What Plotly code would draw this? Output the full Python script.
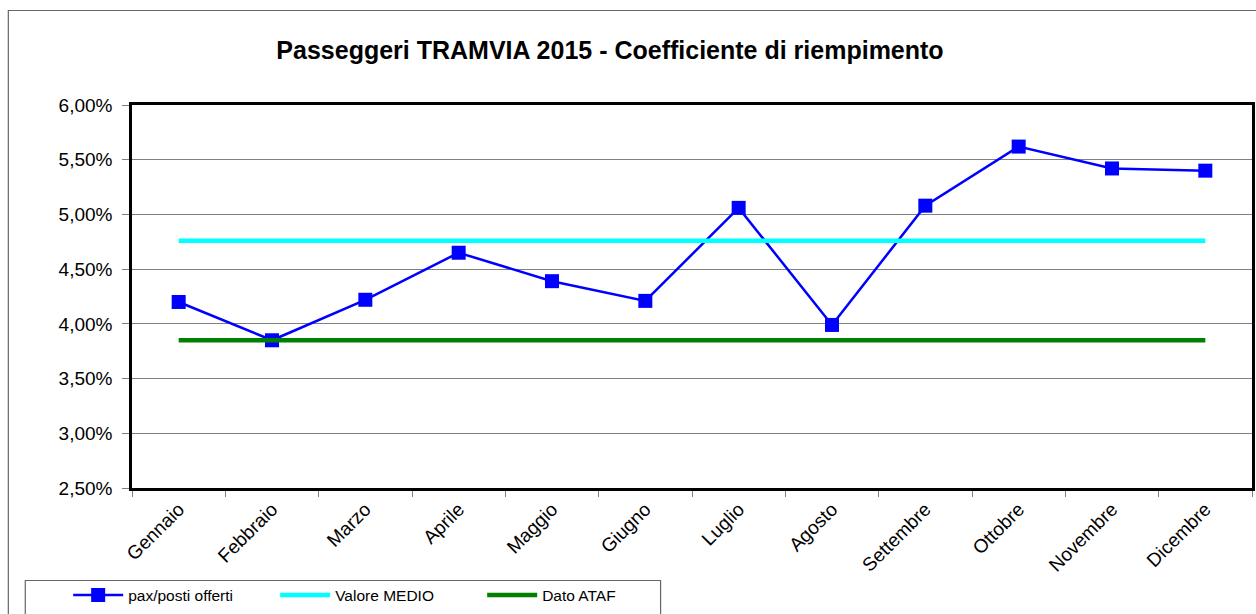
import plotly.graph_objects as go

months = ["Gennaio", "Febbraio", "Marzo", "Aprile", "Maggio", "Giugno",
          "Luglio", "Agosto", "Settembre", "Ottobre", "Novembre", "Dicembre"]
pax_posti = [4.20, 3.85, 4.22, 4.65, 4.39, 4.21, 5.06, 3.99, 5.08, 5.62, 5.42, 5.40]  # %
valore_medio = [4.76] * 12  # %
dato_ataf = [3.85] * 12  # %
y_ticks = [2.5, 3.0, 3.5, 4.0, 4.5, 5.0, 5.5, 6.0]  # %

W, H = 1256, 614
L, R, T, B = 132, 1255, 105, 490
pw, ph = R - L, B - T

def px_x(x):
    return (x - L) / pw

def px_y(y):
    return (B - y) / ph

def frac(vals):
    return [v / 100 for v in vals]

fig = go.Figure()
fig.add_trace(go.Scatter(x=months, y=frac(pax_posti), name="pax/posti offerti", mode="lines+markers",
                         line=dict(color="#0000FF", width=2.5),
                         marker=dict(symbol="square", size=14, color="#0000FF")))
fig.add_trace(go.Scatter(x=months, y=frac(valore_medio), name="Valore MEDIO", mode="lines",
                         line=dict(color="#00FFFF", width=4.5)))
fig.add_trace(go.Scatter(x=months, y=frac(dato_ataf), name="Dato ATAF", mode="lines",
                         line=dict(color="#008000", width=4.5)))

fig.update_layout(
    width=W, height=H,
    margin=dict(l=L, r=W - R, t=T, b=H - B),
    paper_bgcolor="white", plot_bgcolor="white",
    separators=",.",
    font=dict(family="Liberation Sans, Arial, sans-serif", color="black"),
    title=dict(text="<b>Passeggeri TRAMVIA 2015 - Coefficiente di riempimento</b>",
               x=610 / W, xanchor="center", y=1 - 50 / H, yanchor="middle",
               font=dict(size=25, color="black")),
    showlegend=True,
    legend=dict(orientation="h", x=px_x(68), xanchor="left", y=px_y(598), yanchor="middle",
                font=dict(size=15.5), itemwidth=50, entrywidth=142, entrywidthmode="pixels",
                bgcolor="rgba(0,0,0,0)", borderwidth=0, tracegroupgap=0),
    shapes=[
        dict(type="rect", xref="paper", yref="paper", x0=px_x(8), x1=px_x(1300),
             y0=px_y(660), y1=px_y(10), line=dict(color="#666666", width=1.2), layer="below"),
        dict(type="rect", xref="paper", yref="paper", x0=px_x(25), x1=px_x(662),
             y0=px_y(640), y1=px_y(583), line=dict(color="#666666", width=1.2), layer="below"),
    ],
)

fig.update_xaxes(
    type="category", range=[-0.5, 11.5], tickangle=-45,
    tickfont=dict(size=19), ticks="outside", tickson="boundaries",
    ticklen=6, tickcolor="#808080", tickwidth=1,
    showgrid=False, showline=True, linecolor="black", linewidth=2.5, mirror=True,
)
fig.update_yaxes(
    range=[0.025, 0.060], tickvals=frac(y_ticks), tickformat=".2%",
    tickfont=dict(size=19), ticks="outside", ticklen=7, tickcolor="#808080", tickwidth=1,
    ticklabelstandoff=6,
    showgrid=True, gridcolor="#808080", gridwidth=1,
    showline=True, linecolor="black", linewidth=2.5, mirror=True, zeroline=False,
)

fig.write_html("out.html", config={"displayModeBar": False},
               post_script="document.body.style.margin='0';document.body.style.overflow='hidden';")
